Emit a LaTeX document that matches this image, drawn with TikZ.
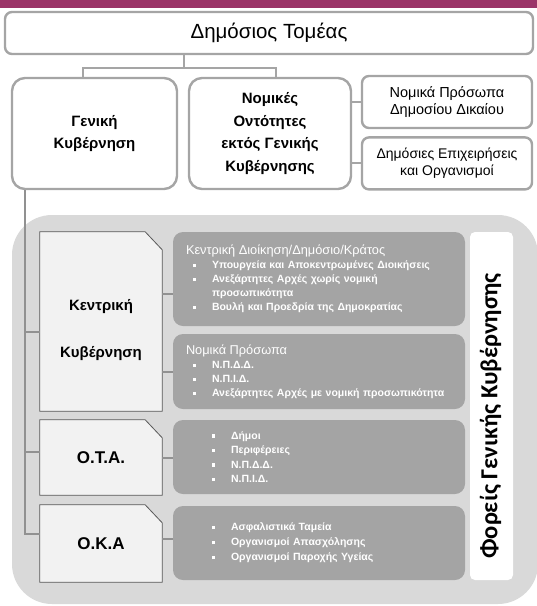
\documentclass[tikz,border=0pt]{standalone}
\usepackage{fontspec}
\setmainfont{Liberation Sans}
\newfontfamily\sidefont{Carlito}
\usepackage{xcolor}
\usetikzlibrary{positioning, backgrounds}

\definecolor{barPurple}{RGB}{155,52,104}
\definecolor{frameGray}{RGB}{165,165,165}
\definecolor{panelGray}{RGB}{217,217,217}
\definecolor{itemGray}{RGB}{164,164,164}
\definecolor{paleGray}{RGB}{242,242,242}
\definecolor{edgeGray}{RGB}{89,89,89}
\definecolor{wireGray}{RGB}{145,145,145}

\newcommand{\bul}{\makebox[19pt][l]{\raisebox{1.5pt}{\rule{3.2pt}{3.2pt}}}}
\newcommand{\hd}[1]{{\fontsize{12.8}{14}\selectfont\mdseries #1}}
% outline with the cut top-right corner
\newcommand{\cutcorner}[1]{\filldraw[govline] (#1.south west) -- (#1.north west) -- ([xshift=-17pt]#1.north east) -- ([yshift=-18pt]#1.north east) -- (#1.south east) -- cycle;}

\begin{document}
\begin{tikzpicture}[
    x=1pt, y=-1pt,
    topbox/.style={draw=frameGray, line width=2.4pt, fill=white, rounded corners=7pt, align=center, inner sep=0pt},
    bigbox/.style={topbox, rounded corners=13pt, minimum width=165pt, minimum height=111pt, font=\fontsize{15}{22}\selectfont\bfseries},
    smallbox/.style={topbox, minimum width=170pt, minimum height=52pt, font=\fontsize{14.5}{17.5}\selectfont},
    govbox/.style={rectangle, minimum width=122pt, inner sep=0pt, align=center, font=\fontsize{17}{20}\selectfont\bfseries},
    govline/.style={draw=edgeGray, line width=0.8pt, fill=paleGray},
    govtext/.style={align=center, inner sep=0pt, font=\fontsize{15}{18}\selectfont\bfseries},
    itembox/.style={fill=itemGray, rounded corners=10pt, minimum width=292pt, text width=266pt, inner xsep=13pt, inner ysep=0pt, align=left, text=white, font=\fontsize{10.5}{14}\selectfont\bfseries},
    topwire/.style={draw=frameGray, line width=2pt},
    lowwire/.style={draw=wireGray, line width=2pt}
]
    \useasboundingbox (0,0) rectangle (537,606);
    \fill[barPurple] (0,0) rectangle (537,8);

    % upper tree
    \node[topbox, minimum width=528pt, minimum height=42pt, font=\fontsize{20.5}{22}\selectfont] (tomeas) at (269,33) {Δημόσιος Τομέας};
    \node[bigbox] (genkyv) at (94.5,133.5) {Γενική\\Κυβέρνηση};
    \node[bigbox, minimum width=162pt, font=\fontsize{15}{22.7}\selectfont\bfseries] (nomikes) at (270,133.5) {Νομικές\\Οντότητες\\εκτός Γενικής\\Κυβέρνησης};
    \node[smallbox] (npdd) at (447,102) {Νομικά Πρόσωπα\\Δημοσίου Δικαίου};
    \node[smallbox, below=7pt of npdd, font=\fontsize{14}{17.5}\selectfont] (depix) {Δημόσιες Επιχειρήσεις\\και Οργανισμοί};

    \coordinate (fork) at (184,68);
    \draw[topwire] (tomeas.south -| fork) -- (fork);
    \draw[topwire] ([xshift=-12pt]genkyv.north) |- (fork) -| ([xshift=6pt]nomikes.north);
    \draw[topwire] (nomikes.east |- npdd.west) -- (npdd.west);
    \draw[topwire] (nomikes.east |- depix.west) -- (depix.west);

    % general government panel
    \node[govbox, minimum height=179pt] (kentriki) at (101,321.5) {};
    \node[govtext] (kentrikilabel) at ([yshift=-9pt]kentriki.center) {Κεντρική\\[29pt]Κυβέρνηση};
    \node[govbox, minimum height=75pt] (ota) at (101,457.5) {Ο.Τ.Α.};
    \node[govbox, minimum height=77pt] (oka) at (101,543.5) {Ο.Κ.Α};

    \begin{scope}[on background layer]
        \fill[panelGray, rounded corners=40pt] (12,215) rectangle (538,604);
        \cutcorner{kentriki}
        \cutcorner{ota}
        \cutcorner{oka}
    \end{scope}

    \node[itembox, minimum height=94pt] (kd) at (319,279) {%
        \hd{Κεντρική Διοίκηση/Δημόσιο/Κράτος}\\
        \hspace*{7pt}\bul Υπουργεία και Αποκεντρωμένες Διοικήσεις\\
        \hspace*{7pt}\bul Ανεξάρτητες Αρχές χωρίς νομική\\
        \hspace*{26pt}προσωπικότητα\\
        \hspace*{7pt}\bul Βουλή και Προεδρία της Δημοκρατίας};
    \node[itembox, minimum height=75pt] (np) at (319,371.5) {%
        \hd{Νομικά Πρόσωπα}\\
        \hspace*{7pt}\bul Ν.Π.Δ.Δ.\\
        \hspace*{7pt}\bul Ν.Π.Ι.Δ.\\
        \hspace*{7pt}\bul Ανεξάρτητες Αρχές με νομική προσωπικότητα};
    \node[itembox, minimum height=74pt, font=\fontsize{10.5}{14.5}\selectfont\bfseries] (dimoi) at (319,457) {%
        \hspace*{26pt}\bul Δήμοι\\
        \hspace*{26pt}\bul Περιφέρειες\\
        \hspace*{26pt}\bul Ν.Π.Δ.Δ.\\
        \hspace*{26pt}\bul Ν.Π.Ι.Δ.};
    \node[itembox, minimum height=74pt, font=\fontsize{10.5}{15}\selectfont\bfseries] (tameia) at (319,543) {%
        \hspace*{26pt}\bul Ασφαλιστικά Ταμεία\\
        \hspace*{26pt}\bul Οργανισμοί Απασχόλησης\\
        \hspace*{26pt}\bul Οργανισμοί Παροχής Υγείας};

    \node[fill=white, rounded corners=5pt, minimum width=43pt, minimum height=348pt, inner sep=0pt] (foreisbox) at (491.5,406) {};
    \node[rotate=90, inner sep=0pt, font=\sidefont\fontsize{24.5}{26}\selectfont\bfseries] (foreis) at (490.5,416) {Φορείς Γενικής Κυβέρνησης};

    % connectors
    \coordinate (spine) at (25,0);
    \draw[lowwire] (genkyv.south -| spine) |- ([yshift=10pt]oka.west);
    \draw[lowwire] (spine |- kentriki.west) ++(0,10.5) -- ([yshift=-10.5pt]kentriki.west);
    \draw[lowwire] ([yshift=5.5pt]ota.west -| spine) -- ([yshift=5.5pt]ota.west);
    \draw[lowwire] ([yshift=-15pt]kentriki.east |- kd.west) -- ([yshift=-15pt]kd.west);
    \draw[lowwire] (kentriki.east |- np.west) -- (np.west);
    \draw[lowwire] (ota.east) -- (ota.east -| dimoi.west);
    \draw[lowwire] ([yshift=5pt]oka.east) -- ([yshift=5pt]oka.east -| tameia.west);
\end{tikzpicture}
\end{document}
